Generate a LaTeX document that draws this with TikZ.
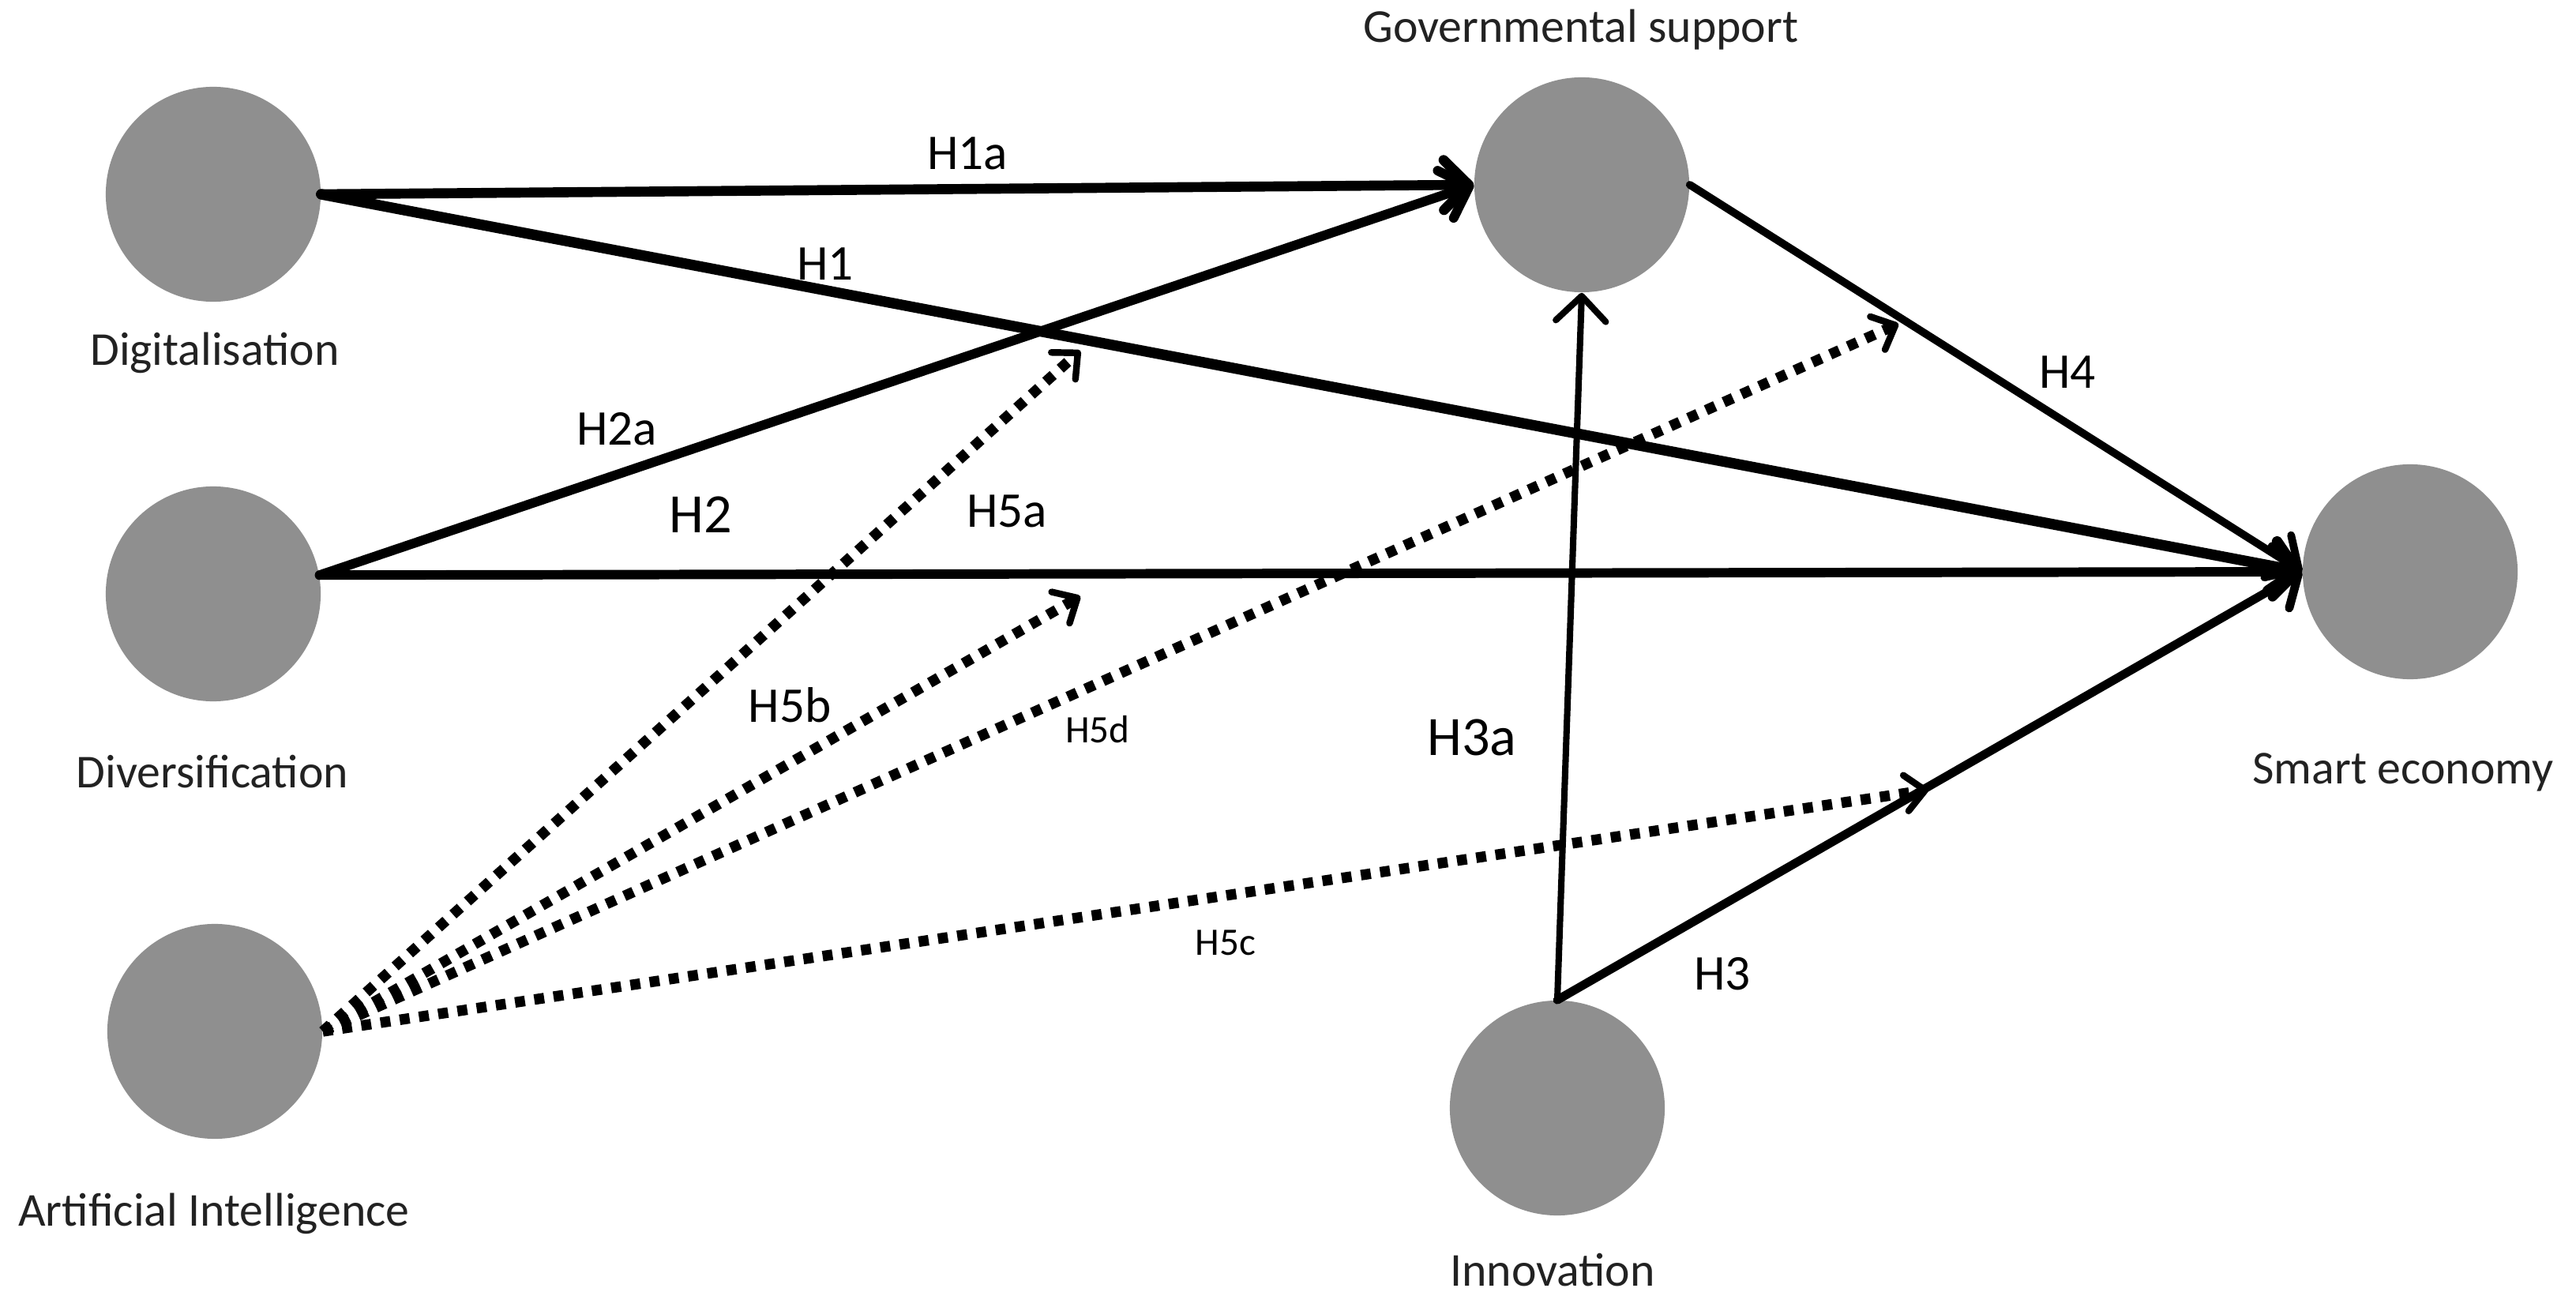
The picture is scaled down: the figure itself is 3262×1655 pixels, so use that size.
\documentclass[tikz,border=0pt]{standalone}
\usepackage{fontspec}
\setmainfont{Carlito}
\usetikzlibrary{arrows.meta}
\definecolor{nodegray}{RGB}{143,143,143}
\definecolor{txtgray}{RGB}{34,34,34}
\begin{document}
\begin{tikzpicture}[x=0.01cm,y=-0.01cm,
  construct/.style={circle,fill=nodegray,inner sep=0pt,minimum size=2.72cm},
  cname/.style={text=txtgray,font=\fontsize{17}{20}\selectfont,inner sep=0pt},
  hlab/.style={font=\fontsize{18}{21}\selectfont,inner sep=0pt},
  hbig/.style={font=\fontsize{20}{23}\selectfont,inner sep=0pt},
  hsmall/.style={font=\fontsize{14}{17}\selectfont,inner sep=0pt},
  solidarrow/.style={line width=3.6pt,line cap=round,
    -{Straight Barb[length=9pt,width=18pt,round]}},
  dotarrow/.style={line width=3.8pt,dash pattern=on 3.6pt off 3.4pt,
    -{Straight Barb[length=7pt,width=13pt,line width=2.4pt,round]}}]
\useasboundingbox (0,0) rectangle (3262,1655);
% constructs
\node[construct] (dig) at (270,246) {};
\node[construct] (div) at (270,752) {};
\node[construct] (ai) at (272,1306) {};
\node[construct] (gov) at (2003,234) {};
\node[construct] (smart) at (3052,724) {};
\node[construct] (innov) at (1972,1403) {};
% construct names
\node[cname] (tdig) at (272,447) {Digitalisation};
\node[cname] (tdiv) at (269,977) {Diversification};
\node[cname] (tai) at (271,1537) {Artificial Intelligence};
\node[cname] (tgov) at (2002,38) {Governmental support};
\node[cname] (tsmart) at (3043,978) {Smart economy};
\node[cname] (tinnov) at (1966,1608) {Innovation};
% end points of the moderating arrows
\coordinate (m5a) at (1368,444);
\coordinate (m5b) at (1368,755);
\coordinate (m5d) at (2404,410);
\coordinate (m5c) at (2442,1000);
% solid paths
\draw[solidarrow] (dig.east) -- (gov.west);
\draw[solidarrow,line width=3.8pt] (dig.east) -- (smart.west);
\draw[solidarrow,line width=3.4pt] (div.10) -- (gov.west);
\draw[solidarrow,line width=3.4pt] (div.10) -- (smart.west);
\draw[solidarrow,line width=2.8pt] (gov.east) -- (smart.west);
\draw[solidarrow,line width=3.1pt] (innov.north) -- (smart.west);
\draw[solidarrow,line width=2.3pt] (innov.north) -- (gov.south);
% dotted paths
\draw[dotarrow] (ai.east) -- (m5a);
\draw[dotarrow] (ai.east) -- (m5b);
\draw[dotarrow] (ai.east) -- (m5d);
\draw[dotarrow] (ai.east) -- (m5c);
% path labels
\node[hlab] (lH1a) at (1225,194) {H1a};
\node[hlab] (lH1) at (1045,334) {H1};
\node[hlab] (lH2a) at (781,543) {H2a};
\node[hbig] (lH2) at (887,652) {H2};
\node[hlab] (lH5a) at (1275,647) {H5a};
\node[hlab] (lH5b) at (1000,893) {H5b};
\node[hsmall] (lH5d) at (1390,924) {H5d};
\node[hsmall] (lH5c) at (1552,1194) {H5c};
\node[hbig] (lH3a) at (1864,934) {H3a};
\node[hlab] (lH3) at (2181,1233) {H3};
\node[hlab] (lH4) at (2618,471) {H4};
\end{tikzpicture}
\end{document}
